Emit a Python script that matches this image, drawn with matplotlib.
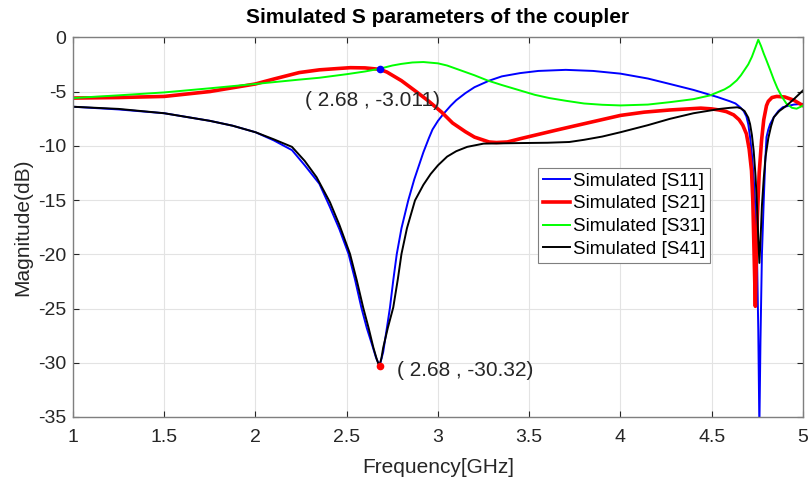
import matplotlib
matplotlib.use("Agg")
import matplotlib.pyplot as plt

plt.rcParams["axes.unicode_minus"] = False

# S11 (blue)
f11 = [1.0, 1.25, 1.5, 1.75, 1.875, 2.0, 2.1, 2.2, 2.27, 2.35, 2.408, 2.46, 2.51,
       2.545, 2.58, 2.61, 2.64, 2.66, 2.68, 2.70, 2.72, 2.737, 2.755, 2.774, 2.80,
       2.837, 2.87, 2.9, 2.92, 2.95, 2.97, 3.0, 3.03, 3.07, 3.1, 3.15, 3.2, 3.28,
       3.35, 3.45, 3.55, 3.7, 3.85, 4.0, 4.15, 4.27, 4.4, 4.53, 4.6, 4.63, 4.655,
       4.675, 4.69, 4.70, 4.71, 4.72, 4.73, 4.74, 4.748, 4.755, 4.761, 4.767, 4.775,
       4.785, 4.793, 4.8, 4.81, 4.82, 4.84, 4.865, 4.89, 4.95, 5.0]
s11 = [-6.4, -6.65, -7.0, -7.7, -8.15, -8.75, -9.5, -10.4, -11.8, -13.5, -15.65, -17.7, -19.97,
       -22.3, -24.9, -26.8, -28.4, -29.5, -30.3, -29.0, -26.8, -24.9, -22.4, -20.0, -17.6,
       -15.04, -13.1, -11.6, -10.6, -9.3, -8.5, -7.7, -7.06, -6.3, -5.8, -5.15, -4.6, -4.0,
       -3.6, -3.3, -3.1, -3.0, -3.1, -3.35, -3.8, -4.3, -4.85, -5.5, -5.9, -6.1, -6.44,
       -6.8, -7.3, -8.0, -9.2, -10.8, -13.0, -16.0, -20.0, -27.0, -36.0, -28.0, -20.0,
       -15.0, -11.5, -9.2, -8.5, -8.0, -7.37, -6.8, -6.44, -6.2, -6.13]

# S21 (red)
f21 = [1.0, 1.25, 1.5, 1.75, 2.0, 2.1, 2.24, 2.35, 2.45, 2.52, 2.6, 2.68, 2.72, 2.8,
       2.88, 2.95, 3.02, 3.08, 3.15, 3.2, 3.28, 3.32, 3.38, 3.45, 3.55, 3.65, 3.74,
       3.87, 4.0, 4.13, 4.27, 4.44, 4.5, 4.54, 4.58, 4.62, 4.65, 4.67, 4.69, 4.705,
       4.718, 4.725, 4.73, 4.735, 4.739, 4.745, 4.75, 4.76, 4.773, 4.785, 4.8, 4.81,
       4.83, 4.856, 4.9, 4.95, 5.0]
s21 = [-5.6, -5.55, -5.45, -5.0, -4.3, -3.85, -3.25, -3.0, -2.88, -2.8, -2.82, -2.95, -3.2, -4.0,
       -5.0, -5.9, -6.9, -7.9, -8.7, -9.2, -9.65, -9.7, -9.65, -9.35, -8.95, -8.55, -8.2,
       -7.7, -7.2, -6.9, -6.7, -6.53, -6.6, -6.7, -6.85, -7.15, -7.6, -8.1, -8.9, -10.3,
       -12.3, -15.0, -18.5, -22.0, -24.8, -19.5, -16.5, -12.5, -9.5, -7.6, -6.3, -5.9,
       -5.55, -5.45, -5.5, -5.8, -6.3]

# S31 (green)
f31 = [1.0, 1.25, 1.5, 1.75, 2.0, 2.24, 2.35, 2.5, 2.6, 2.68, 2.75, 2.8, 2.86, 2.92,
       3.0, 3.05, 3.1, 3.15, 3.2, 3.27, 3.35, 3.45, 3.53, 3.61, 3.7, 3.8, 3.9, 4.0,
       4.15, 4.27, 4.4, 4.49, 4.57, 4.6, 4.637, 4.66, 4.68, 4.7, 4.72, 4.74, 4.755,
       4.77, 4.785, 4.8, 4.82, 4.84, 4.86, 4.885, 4.91, 4.94, 4.965, 5.0]
s31 = [-5.6, -5.35, -5.08, -4.7, -4.3, -3.9, -3.73, -3.4, -3.15, -2.9, -2.6, -2.45, -2.32, -2.28,
       -2.4, -2.6, -2.9, -3.2, -3.5, -3.97, -4.4, -4.9, -5.3, -5.6, -5.85, -6.1, -6.22, -6.28,
       -6.2, -5.98, -5.7, -5.36, -4.8, -4.5, -3.97, -3.5, -3.0, -2.5, -1.8, -0.9, -0.22,
       -0.8, -1.5, -2.13, -3.0, -3.9, -4.7, -5.5, -6.13, -6.5, -6.58, -6.3]

# S41 (black)
f41 = [1.0, 1.25, 1.5, 1.75, 1.875, 2.0, 2.1, 2.2, 2.27, 2.335, 2.408, 2.46, 2.518,
       2.555, 2.59, 2.62, 2.646, 2.665, 2.678, 2.69, 2.70, 2.725, 2.755, 2.78, 2.80,
       2.83, 2.874, 2.92, 2.96, 3.0, 3.05, 3.1, 3.16, 3.25, 3.45, 3.6, 3.72, 3.8, 3.9,
       4.0, 4.15, 4.27, 4.4, 4.545, 4.6, 4.64, 4.66, 4.68, 4.7, 4.71, 4.72, 4.73, 4.74,
       4.748, 4.755, 4.761, 4.767, 4.775, 4.785, 4.795, 4.81, 4.825, 4.84, 4.87, 4.91,
       4.95, 5.0]
s41 = [-6.4, -6.6, -7.0, -7.7, -8.15, -8.75, -9.4, -10.1, -11.4, -12.9, -15.2, -17.3, -19.97,
       -22.4, -24.9, -26.8, -28.6, -29.7, -30.3, -29.6, -28.6, -26.8, -24.9, -22.3, -19.97,
       -17.6, -15.04, -13.6, -12.6, -11.8, -11.0, -10.5, -10.1, -9.8, -9.75, -9.72, -9.65, -9.45, -9.15,
       -8.75, -8.1, -7.52, -7.0, -6.6, -6.5, -6.45, -6.55, -6.8, -7.4, -8.0, -9.0, -10.5, -12.8,
       -15.5, -18.5, -20.8, -18.8, -15.5, -13.0, -11.0, -9.3, -8.2, -7.37, -6.8, -6.3,
       -5.7, -4.9]

labels = ["Simulated [S11]", "Simulated [S21]", "Simulated [S31]", "Simulated [S41]"]
mark_x = 2.68
mark_top = -3.011
mark_bot = -30.32

plain = ["Liberation Sans", "DejaVu Sans"]

fig = plt.figure(figsize=(8.08, 4.82), dpi=100)
ax = fig.add_axes([0.0903, 0.1349, 0.9035, 0.7877])

ax.plot(f11, s11, color="#0000ff", lw=1.4, label=labels[0])
ax.plot(f21, s21, color="#ff0000", lw=2.6, label=labels[1])
ax.plot(f31, s31, color="#00ff00", lw=1.4, label=labels[2])
ax.plot(f41, s41, color="black", lw=1.4, label=labels[3])

ax.plot([mark_x], [-2.95], "o", color="#0000ff", ms=4.5)
ax.plot([mark_x], [mark_bot], "o", color="#ff0000", ms=4.5)
ax.text(2.27, -5.8, "( %.2f , %.3f)" % (mark_x, mark_top), fontsize=15,
        family=plain, va="center", color="#262626")
ax.text(2.775, -30.7, "( %.2f , %.2f)" % (mark_x, mark_bot), fontsize=15,
        family=plain, va="center", color="#262626")

ax.set_xlim(1, 5)
ax.set_ylim(-35, 0)
ax.set_xticks([1, 1.5, 2, 2.5, 3, 3.5, 4, 4.5, 5])
ax.set_xticklabels(["1", "1.5", "2", "2.5", "3", "3.5", "4", "4.5", "5"])
ax.set_yticks([-35, -30, -25, -20, -15, -10, -5, 0])
ax.grid(True, color="#e3e3e3", lw=0.8)
ax.tick_params(direction="in", top=True, right=True, length=4, color="#262626",
               labelsize=14, labelcolor="#262626")
ax.tick_params(axis="x", pad=9)
ax.tick_params(axis="y", pad=5)
for lab in ax.get_xticklabels() + ax.get_yticklabels():
    lab.set_family(plain)
for sp in ax.spines.values():
    sp.set_color("#7f7f7f")
    sp.set_linewidth(1.0)

ax.set_xlabel("Frequency[GHz]", fontsize=15, family=plain, color="#262626", labelpad=8)
ax.set_ylabel("Magnitude(dB)", fontsize=15, family=plain, color="#262626", labelpad=4)
ax.set_title("Simulated S parameters of the coupler", fontsize=15, fontweight="bold",
             family=plain, pad=10)

leg = ax.legend(loc="upper left", bbox_to_anchor=(0.637, 0.656),
                prop={"family": plain, "size": 13.5}, fancybox=False, framealpha=1,
                edgecolor="#7f7f7f", borderpad=0.25, labelspacing=0.3,
                handlelength=1.45, handletextpad=0.15, borderaxespad=0)
leg.get_frame().set_linewidth(0.8)

fig.savefig("out.png", dpi=100)
